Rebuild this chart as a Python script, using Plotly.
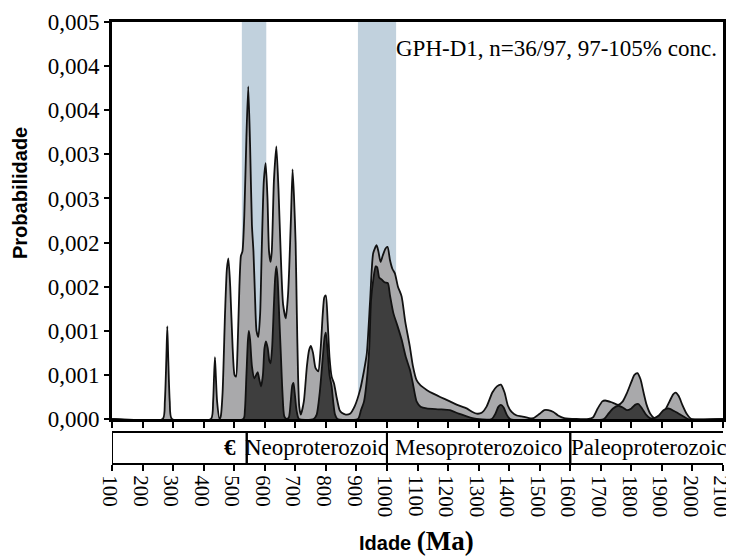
import plotly.graph_objects as go

# ---- data (ages in Ma, probability density) ----
all_age = [100, 266, 273, 278, 281, 284, 289, 296, 424, 431, 434, 437, 440, 444, 452,
           456, 462, 470, 476, 481, 487, 495, 501, 506, 511, 517, 522, 527, 533, 540, 546,
           552, 558, 563, 568, 573, 579, 585, 590, 597, 603, 609, 614, 619, 623, 630, 638,
           645, 652, 660, 669, 676, 680, 686, 691, 696, 701, 705, 709, 713, 718, 728, 738,
           745, 751, 758, 766, 775, 783, 790, 795, 800, 806, 812, 819, 827, 835, 845, 852,
           865, 879, 895, 912, 925, 934, 945, 955, 966, 972, 979, 986, 995, 1002, 1010, 1018,
           1026, 1036, 1048, 1060, 1075, 1085, 1097, 1110, 1130, 1150, 1174, 1206, 1230,
           1261, 1280, 1294, 1310, 1326, 1345, 1360, 1373, 1385, 1396, 1408, 1425, 1441,
           1465, 1480, 1500, 1515, 1528, 1545, 1560, 1580, 1660, 1675, 1690, 1705, 1714,
           1735, 1757, 1772, 1785, 1800, 1810, 1820, 1830, 1840, 1850, 1862, 1877, 1893,
           1910, 1925, 1937, 1945, 1955, 1967, 1981, 1997, 2100]
all_prob = [0, 0, 0.0002, 0.0007, 0.00105, 0.0007, 0.0002, 0, 0, 0.0002, 0.00048, 0.0007, 0.00048, 0.0002, 0,
            0.00003, 0.0003, 0.0012, 0.0017, 0.00182, 0.0015, 0.0008, 0.0005, 0.00048, 0.0008, 0.0015, 0.00185, 0.0019, 0.0023, 0.0032, 0.00377,
            0.0031, 0.0022, 0.0019, 0.0014, 0.001, 0.00093, 0.0012, 0.0019, 0.0027, 0.0029, 0.0025, 0.0019, 0.00178, 0.0019, 0.0027, 0.00309,
            0.0026, 0.0019, 0.0013, 0.00114, 0.0014, 0.0017, 0.0023, 0.00283, 0.0025, 0.002, 0.0012, 0.0005, 0.00014, 0.00005, 0.0002, 0.0006,
            0.00078, 0.00083, 0.00075, 0.00058, 0.00054, 0.0008, 0.0012, 0.00138, 0.0014, 0.0011, 0.0007, 0.00048, 0.0004, 0.00025, 0.0001, 0.00007,
            0.00005, 0.00006, 0.00015, 0.00033, 0.00055, 0.00074, 0.00135, 0.00188, 0.00197, 0.0019, 0.00178, 0.00185, 0.00193, 0.00195, 0.0018, 0.0017,
            0.00165, 0.0015, 0.00139, 0.0011, 0.00082, 0.0006, 0.00044, 0.00038, 0.00033, 0.00029, 0.00025, 0.0002, 0.00016,
            0.00012, 0.00008, 0.00006, 0.00007, 0.00014, 0.0003, 0.00037, 0.00039, 0.0003, 0.00015, 0.00008, 0.00004, 0.00003,
            0.00001, 0.00001, 0.00006, 0.0001, 0.0001, 0.00008, 0.00004, 0.00001, 0, 0.00002, 0.00012, 0.0002, 0.00021,
            0.00019, 0.00016, 0.0002, 0.00029, 0.00042, 0.0005, 0.00052, 0.00045, 0.0003, 0.00016, 0.00006, 0.00001, 0.00004,
            0.0001, 0.0002, 0.00028, 0.0003, 0.00026, 0.00016, 0.00006, 0, 0]

conc_age = [100, 530, 535, 540, 545, 548, 552, 558, 566, 572, 577, 582, 588, 594, 599, 604, 610,
            615, 619, 624, 630, 634, 638, 642, 647, 653, 658, 664, 672, 679, 685, 690, 694, 698,
            704, 712, 760, 770, 780, 790, 796, 800, 805, 812, 819, 824, 830, 838, 905, 915, 925,
            934, 942, 948, 956, 963, 968, 975, 983, 992, 1003, 1010, 1021, 1035, 1048, 1062, 1075,
            1085, 1097, 1110, 1130, 1170, 1206, 1235, 1261, 1280, 1294, 1343, 1355, 1365, 1373,
            1382, 1392, 1403, 1710, 1725, 1740, 1757, 1772, 1785, 1800, 1812, 1823, 1835, 1848,
            1861, 1875, 1890, 1905, 1921, 1940, 1960, 1975, 1986, 2100]
conc_prob = [0, 0, 0.0001, 0.0005, 0.0009, 0.001, 0.0009, 0.0006, 0.00046, 0.0005, 0.00053, 0.00045, 0.00037, 0.0005, 0.0008, 0.00088, 0.0008,
             0.00066, 0.00063, 0.0008, 0.0013, 0.0016, 0.00173, 0.0016, 0.0012, 0.00071, 0.0003, 0.00003, 0, 0.00002, 0.0002, 0.00038, 0.00041, 0.0003,
             0.0001, 0, 0, 0.00005, 0.0003, 0.0007, 0.00093, 0.00098, 0.0008, 0.0005, 0.00037, 0.0002, 0.00005, 0, 0, 0.0001, 0.0002,
             0.00044, 0.0008, 0.00135, 0.0016, 0.00173, 0.00172, 0.0016, 0.00158, 0.00155, 0.00154, 0.0014, 0.0012, 0.00105, 0.0009, 0.0007, 0.00056,
             0.0004, 0.0002, 0.00014, 0.00012, 0.00011, 0.0001, 0.00006, 0.00003, 0.00001, 0, 0, 0.00006, 0.00014, 0.00016,
             0.00013, 0.00005, 0, 0, 0.00006, 0.00012, 0.00015, 0.00013, 0.0001, 0.00012, 0.00016, 0.00017, 0.00012, 0.00005,
             0.00001, 0.00001, 0.00004, 0.0001, 0.00012, 0.00009, 0.00005, 0.00002, 0, 0]

band_start = [525, 905]
band_end = [605, 1030]

era_names = ["<b>€</b>", "Neoproterozoic", "Mesoproterozoico", "Paleoproterozoic"]
era_start = [100, 541, 1000, 1600]
era_end = [541, 1000, 1600, 2115]
era_label_x = [486, 770, 1300, 1857]

y_tickvals = [0, 0.0005, 0.001, 0.0015, 0.002, 0.0025, 0.003, 0.0035, 0.004, 0.0045]
y_ticktext = ["0,000", "0,001", "0,001", "0,002", "0,002", "0,003", "0,003", "0,004", "0,004", "0,005"]
x_range = [100, 2100]
y_range = [0, 0.0045]

sample_label = "GPH-D1, n=36/97, 97-105% conc."

SERIF = "Liberation Serif"
SANS = "Liberation Sans"

fig = go.Figure()
fig.add_trace(go.Scatter(x=all_age, y=all_prob, mode="lines", fill="tozeroy",
                         line=dict(color="#111111", width=1.8, shape="spline", smoothing=0.6),
                         fillcolor="#a9a9ab", hoverinfo="skip", showlegend=False))
fig.add_trace(go.Scatter(x=conc_age, y=conc_prob, mode="lines", fill="tozeroy",
                         line=dict(color="#111111", width=1.8, shape="spline", smoothing=0.6),
                         fillcolor="#3e3e3e", hoverinfo="skip", showlegend=False))
# invisible trace to carry the lower (tick-label) axis
fig.add_trace(go.Scatter(x=x_range, y=[0, 0], mode="none", xaxis="x2",
                         hoverinfo="skip", showlegend=False))

for s, e in zip(band_start, band_end):
    fig.add_shape(type="rect", xref="x", yref="y", x0=s, x1=e, y0=y_range[0], y1=y_range[1],
                  fillcolor="#c1d1dd", line=dict(width=0), layer="below")

box_top = 0.0724
for name, s, e, lx in zip(era_names, era_start, era_end, era_label_x):
    fig.add_shape(type="rect", xref="x", yref="paper", x0=s, x1=e, y0=0, y1=box_top,
                  line=dict(color="black", width=2), fillcolor="rgba(0,0,0,0)")
    fig.add_annotation(x=lx, y=box_top / 2, xref="x", yref="paper", text=name,
                       showarrow=False, xanchor="center", yanchor="middle",
                       font=dict(family=SERIF, size=23, color="black"))

fig.add_annotation(x=0.994, y=0.94, xref="paper", yref="paper", text=sample_label,
                   showarrow=False, xanchor="right", yanchor="middle",
                   font=dict(family=SERIF, size=23, color="black"))

fig.add_annotation(x=(20 - 112) / 611, y=(464 - 193) / 442, xref="paper", yref="paper",
                   text="<b>Probabilidade</b>", textangle=-90, showarrow=False,
                   xanchor="center", yanchor="middle",
                   font=dict(family=SANS, size=20, color="black"))

fig.add_annotation(x=(416 - 112) / 611, y=(464 - 541) / 442, xref="paper", yref="paper",
                   text="<b>Idade</b> <span style='font-family:Liberation Serif;font-size:27px'><b>(Ma)</b></span>",
                   showarrow=False, xanchor="center", yanchor="middle",
                   font=dict(family=SANS, size=20, color="black"))

fig.update_layout(
    width=734, height=551,
    margin=dict(l=104, r=19, t=14, b=95, autoexpand=False),
    plot_bgcolor="white", paper_bgcolor="white",
    showlegend=False,
    xaxis=dict(range=x_range, dtick=100, tick0=100, showticklabels=False,
               ticks="outside", ticklen=6, tickwidth=2, tickcolor="black",
               showline=True, linewidth=3, linecolor="black", mirror=True,
               showgrid=False, zeroline=False, anchor="y", automargin=False),
    xaxis2=dict(range=x_range, dtick=100, tick0=100, overlaying="x", anchor="free", position=0,
                side="bottom", ticks="outside", ticklen=6, tickwidth=2, tickcolor="black",
                tickangle=90, tickfont=dict(family=SERIF, size=21, color="black"),
                ticklabeloverflow="allow", ticklabelshift=-2,
                showline=False, showgrid=False, zeroline=False, automargin=False),
    yaxis=dict(range=y_range, domain=[0.1018, 1], tickvals=y_tickvals, ticktext=y_ticktext,
               ticks="outside", ticklen=5, tickwidth=2, tickcolor="black",
               tickfont=dict(family=SERIF, size=23, color="black"),
               showline=True, linewidth=3, linecolor="black", mirror=True,
               showgrid=False, zeroline=False, automargin=False),
)

fig.write_html("out.html",
               post_script="document.body.style.overflow='hidden';")
